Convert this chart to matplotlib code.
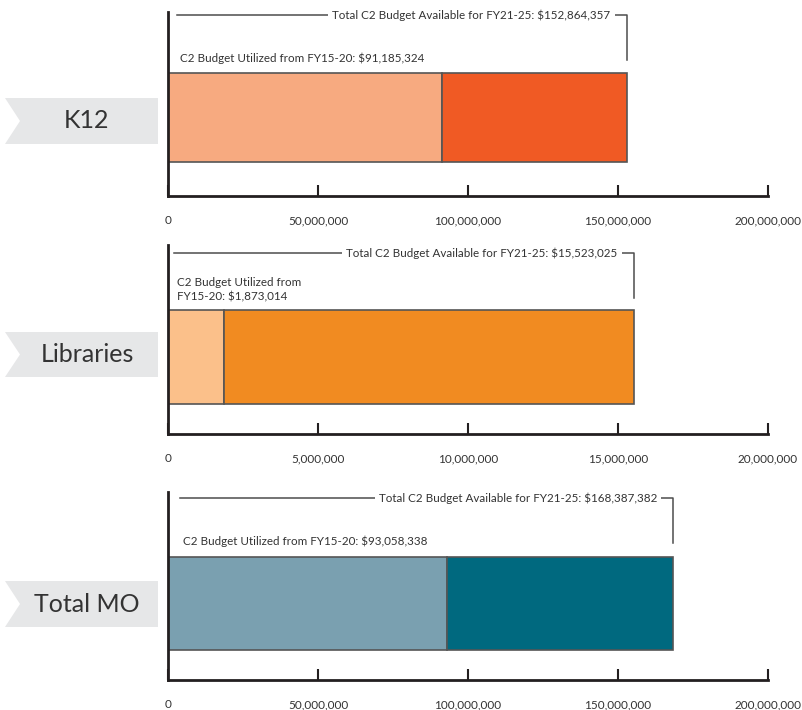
import matplotlib
matplotlib.use("Agg")
import matplotlib.pyplot as plt
from matplotlib.patches import Polygon

plt.rcParams['font.family'] = ['Lato', 'DejaVu Sans']

categories = ["K12", "Libraries", "Total MO"]
utilized = [91185324, 1873014, 93058338]
total = [152864357, 15523025, 168387382]
axis_max = [200_000_000, 20_000_000, 200_000_000]
tick_step = [50_000_000, 5_000_000, 50_000_000]
utilized_labels = [
    "C2 Budget Utilized from FY15-20: $91,185,324",
    "C2 Budget Utilized from\nFY15-20: $1,873,014",
    "C2 Budget Utilized from FY15-20: $93,058,338",
]
total_labels = [
    "Total C2 Budget Available for FY21-25: $152,864,357",
    "Total C2 Budget Available for FY21-25: $15,523,025",
    "Total C2 Budget Available for FY21-25: $168,387,382",
]
light_colors = ["#f7aa80", "#fbc08a", "#7aa0b0"]
dark_colors = ["#f05a24", "#f18b21", "#00697f"]

# layout (pixel units)
W, H = 803, 710
AX_LEFT, AX_W = 168, 600
layout = [
    # ax_top, ax_bot, bar_top, bar_bot, bracket_y, drop_y, bracket_start_px, label_off_px, tag_top, tag_bot
    (12, 196, 73, 162, 15, 60, 9, 12, 98, 144),
    (245, 434, 310, 404, 253, 298, 6, 9, 332, 377),
    (492, 680, 557, 650, 498, 543, 12, 15, 581, 627),
]

fig = plt.figure(figsize=(W / 100, H / 100), dpi=100)
fig.patch.set_facecolor("white")

def fx(x):
    return x / W

def fy(y):
    return 1 - y / H

text_color = "#333333"
edge = "#555555"
axis_color = "#231f20"

for i, cat in enumerate(categories):
    at, ab, bt, bb, by, dy, bstart, loff, tt, tb = layout[i]
    ax = fig.add_axes([fx(AX_LEFT), fy(ab), AX_W / W, (ab - at) / H])
    xm = axis_max[i]
    s = xm / AX_W  # data per pixel
    ax.set_xlim(0, xm)
    ax.set_ylim(ab, at)
    ymid = (bt + bb) / 2
    bh = bb - bt
    ax.barh(ymid, utilized[i], height=bh, color=light_colors[i],
            edgecolor=edge, linewidth=1.2, zorder=2)
    ax.barh(ymid, total[i] - utilized[i], left=utilized[i], height=bh,
            color=dark_colors[i], edgecolor=edge, linewidth=1.2, zorder=2)

    for sp in ("top", "right"):
        ax.spines[sp].set_visible(False)
    for sp in ("left", "bottom"):
        ax.spines[sp].set_linewidth(2)
        ax.spines[sp].set_color(axis_color)
    ax.set_yticks([])
    ticks = list(range(0, xm + 1, tick_step[i]))
    ax.set_xticks(ticks)
    ax.set_xticklabels([f"{t:,}" for t in ticks])
    ax.tick_params(axis="x", direction="in", length=8, width=1.5,
                   color=axis_color, pad=14, labelsize=8.5, labelcolor=text_color)

    # bracket
    ax.plot([bstart * s, total[i], total[i]], [by, by, dy],
            color="#4d4d4d", linewidth=1.1, zorder=1, clip_on=False)
    ax.text(total[i] - 16 * s, by, total_labels[i], ha="right", va="center",
            fontsize=8.4, color=text_color, zorder=3,
            bbox=dict(facecolor="white", edgecolor="none", pad=3))
    ax.text(loff * s, dy + 4, utilized_labels[i], ha="left", va="bottom",
            fontsize=8.4, color=text_color, linespacing=1.3)

    # category tag
    tm = (tt + tb) / 2
    pts = [(fx(5), fy(tt)), (fx(158), fy(tt)), (fx(158), fy(tb)),
           (fx(5), fy(tb)), (fx(20), fy(tm))]
    fig.patches.append(Polygon(pts, closed=True, transform=fig.transFigure,
                               facecolor="#e6e7e8", edgecolor="none"))
    fig.text(fx(87), fy(tm), cat, ha="center", va="center",
             fontsize=18, color=text_color)

fig.savefig("out.png", dpi=100, facecolor="white")
